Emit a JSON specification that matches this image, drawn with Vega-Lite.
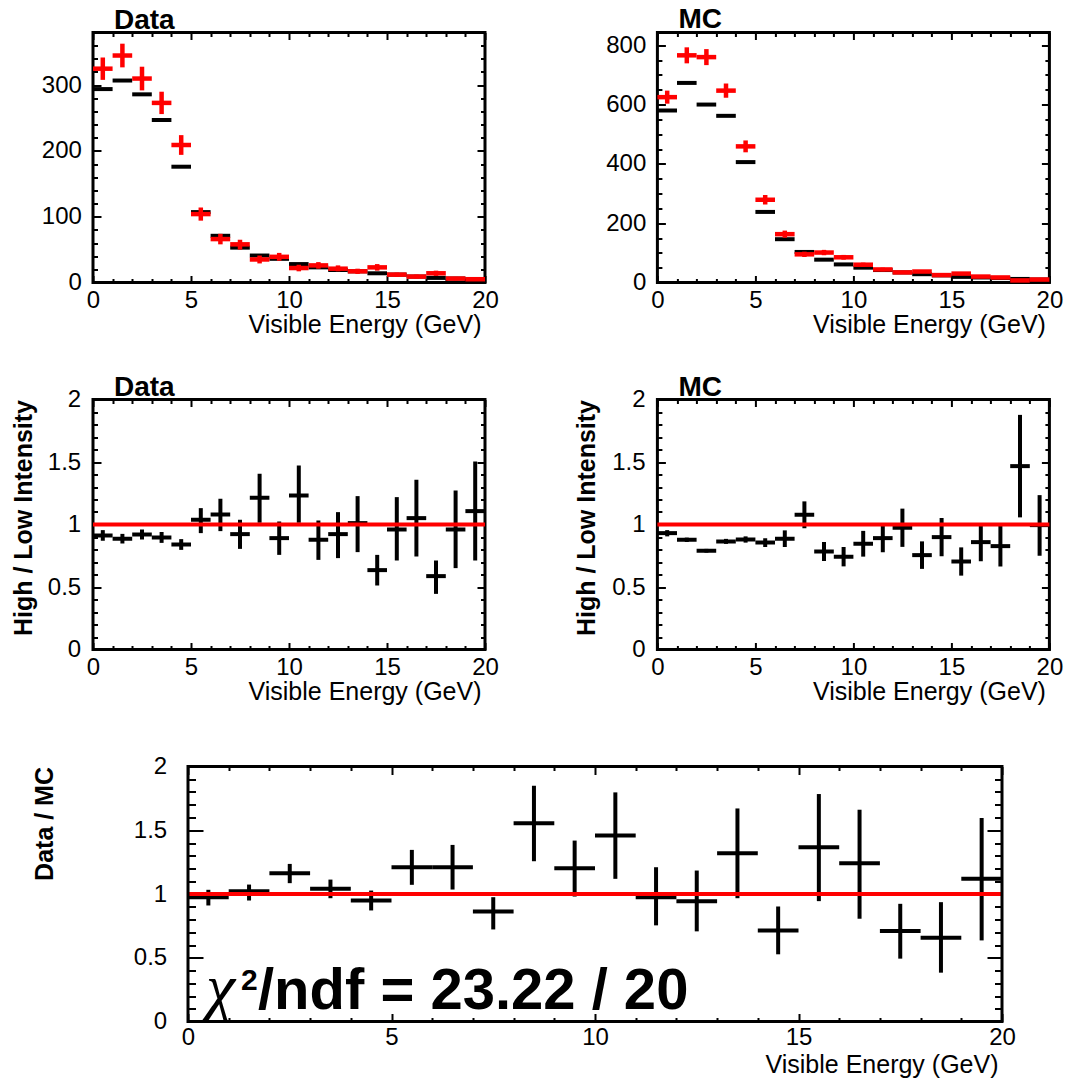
{
  "$schema": "https://vega.github.io/schema/vega-lite/v6.json",
  "background": "white",
  "padding": {"left": 9, "top": 3.5, "right": 5, "bottom": 2},
  "datasets": {
    "d1": [
      {"b":0.5,"x0":0,"x1":1,"high":294,"low":325,"low_lo":308,"low_hi":342},
      {"b":1.5,"x0":1,"x1":2,"high":307,"low":345,"low_lo":327,"low_hi":363},
      {"b":2.5,"x0":2,"x1":3,"high":286,"low":310,"low_lo":292,"low_hi":328},
      {"b":3.5,"x0":3,"x1":4,"high":247,"low":273,"low_lo":256,"low_hi":290},
      {"b":4.5,"x0":4,"x1":5,"high":176,"low":209,"low_lo":194,"low_hi":224},
      {"b":5.5,"x0":5,"x1":6,"high":107,"low":104,"low_lo":94,"low_hi":114},
      {"b":6.5,"x0":6,"x1":7,"high":71,"low":66,"low_lo":58,"low_hi":74},
      {"b":7.5,"x0":7,"x1":8,"high":53,"low":58,"low_lo":50,"low_hi":65},
      {"b":8.5,"x0":8,"x1":9,"high":41,"low":35,"low_lo":29,"low_hi":41},
      {"b":9.5,"x0":9,"x1":10,"high":36,"low":39,"low_lo":33,"low_hi":45},
      {"b":10.5,"x0":10,"x1":11,"high":28,"low":22,"low_lo":17,"low_hi":27},
      {"b":11.5,"x0":11,"x1":12,"high":23,"low":26,"low_lo":21,"low_hi":31},
      {"b":12.5,"x0":12,"x1":13,"high":19,"low":21,"low_lo":17,"low_hi":26},
      {"b":13.5,"x0":13,"x1":14,"high":17,"low":17,"low_lo":13,"low_hi":21},
      {"b":14.5,"x0":14,"x1":15,"high":14,"low":23,"low_lo":18,"low_hi":28},
      {"b":15.5,"x0":15,"x1":16,"high":12,"low":12,"low_lo":8.5,"low_hi":15},
      {"b":16.5,"x0":16,"x1":17,"high":9,"low":9,"low_lo":6,"low_hi":12},
      {"b":17.5,"x0":17,"x1":18,"high":7,"low":14,"low_lo":10,"low_hi":18},
      {"b":18.5,"x0":18,"x1":19,"high":6,"low":6,"low_lo":3.5,"low_hi":8.5},
      {"b":19.5,"x0":19,"x1":20,"high":5,"low":5,"low_lo":3,"low_hi":7}
    ],
    "d2": [
      {"b":0.5,"x0":0,"x1":1,"high":580,"low":625,"low_lo":603,"low_hi":647},
      {"b":1.5,"x0":1,"x1":2,"high":673,"low":766,"low_lo":739,"low_hi":793},
      {"b":2.5,"x0":2,"x1":3,"high":600,"low":760,"low_lo":733,"low_hi":787},
      {"b":3.5,"x0":3,"x1":4,"high":562,"low":647,"low_lo":623,"low_hi":671},
      {"b":4.5,"x0":4,"x1":5,"high":406,"low":459,"low_lo":439,"low_hi":479},
      {"b":5.5,"x0":5,"x1":6,"high":238,"low":279,"low_lo":263,"low_hi":295},
      {"b":6.5,"x0":6,"x1":7,"high":146,"low":163,"low_lo":151,"low_hi":175},
      {"b":7.5,"x0":7,"x1":8,"high":103,"low":95,"low_lo":86,"low_hi":104},
      {"b":8.5,"x0":8,"x1":9,"high":77,"low":101,"low_lo":92,"low_hi":110},
      {"b":9.5,"x0":9,"x1":10,"high":61,"low":85,"low_lo":77,"low_hi":93},
      {"b":10.5,"x0":10,"x1":11,"high":50,"low":60,"low_lo":53,"low_hi":67},
      {"b":11.5,"x0":11,"x1":12,"high":42,"low":44,"low_lo":38,"low_hi":50},
      {"b":12.5,"x0":12,"x1":13,"high":34,"low":34,"low_lo":29,"low_hi":39},
      {"b":13.5,"x0":13,"x1":14,"high":28,"low":37,"low_lo":32,"low_hi":42},
      {"b":14.5,"x0":14,"x1":15,"high":24,"low":25,"low_lo":21,"low_hi":29},
      {"b":15.5,"x0":15,"x1":16,"high":19,"low":30,"low_lo":25,"low_hi":35},
      {"b":16.5,"x0":16,"x1":17,"high":17,"low":20,"low_lo":16,"low_hi":24},
      {"b":17.5,"x0":17,"x1":18,"high":15,"low":17,"low_lo":13,"low_hi":21},
      {"b":18.5,"x0":18,"x1":19,"high":12,"low":7,"low_lo":4.5,"low_hi":9.5},
      {"b":19.5,"x0":19,"x1":20,"high":10,"low":10,"low_lo":7,"low_hi":13}
    ],
    "r1": [
      {"b":0.5,"x0":0,"x1":1,"r":0.912,"r_lo":0.87,"r_hi":0.955},
      {"b":1.5,"x0":1,"x1":2,"r":0.886,"r_lo":0.848,"r_hi":0.925},
      {"b":2.5,"x0":2,"x1":3,"r":0.92,"r_lo":0.88,"r_hi":0.96},
      {"b":3.5,"x0":3,"x1":4,"r":0.896,"r_lo":0.853,"r_hi":0.94},
      {"b":4.5,"x0":4,"x1":5,"r":0.84,"r_lo":0.797,"r_hi":0.883},
      {"b":5.5,"x0":5,"x1":6,"r":1.038,"r_lo":0.931,"r_hi":1.131},
      {"b":6.5,"x0":6,"x1":7,"r":1.08,"r_lo":0.947,"r_hi":1.206},
      {"b":7.5,"x0":7,"x1":8,"r":0.923,"r_lo":0.805,"r_hi":1.038},
      {"b":8.5,"x0":8,"x1":9,"r":1.214,"r_lo":1.014,"r_hi":1.406},
      {"b":9.5,"x0":9,"x1":10,"r":0.891,"r_lo":0.757,"r_hi":1.024},
      {"b":10.5,"x0":10,"x1":11,"r":1.232,"r_lo":1.014,"r_hi":1.472},
      {"b":11.5,"x0":11,"x1":12,"r":0.878,"r_lo":0.717,"r_hi":1.032},
      {"b":12.5,"x0":12,"x1":13,"r":0.923,"r_lo":0.731,"r_hi":1.099},
      {"b":13.5,"x0":13,"x1":14,"r":1.011,"r_lo":0.779,"r_hi":1.227},
      {"b":14.5,"x0":14,"x1":15,"r":0.635,"r_lo":0.512,"r_hi":0.757},
      {"b":15.5,"x0":15,"x1":16,"r":0.96,"r_lo":0.712,"r_hi":1.219},
      {"b":16.5,"x0":16,"x1":17,"r":1.051,"r_lo":0.744,"r_hi":1.358},
      {"b":17.5,"x0":17,"x1":18,"r":0.587,"r_lo":0.445,"r_hi":0.712},
      {"b":18.5,"x0":18,"x1":19,"r":0.96,"r_lo":0.651,"r_hi":1.272},
      {"b":19.5,"x0":19,"x1":20,"r":1.107,"r_lo":0.712,"r_hi":1.504}
    ],
    "r2": [
      {"b":0.5,"x0":0,"x1":1,"r":0.931,"r_lo":0.905,"r_hi":0.955},
      {"b":1.5,"x0":1,"x1":2,"r":0.878,"r_lo":0.86,"r_hi":0.895},
      {"b":2.5,"x0":2,"x1":3,"r":0.79,"r_lo":0.775,"r_hi":0.805},
      {"b":3.5,"x0":3,"x1":4,"r":0.864,"r_lo":0.845,"r_hi":0.885},
      {"b":4.5,"x0":4,"x1":5,"r":0.88,"r_lo":0.855,"r_hi":0.905},
      {"b":5.5,"x0":5,"x1":6,"r":0.856,"r_lo":0.82,"r_hi":0.89},
      {"b":6.5,"x0":6,"x1":7,"r":0.886,"r_lo":0.82,"r_hi":0.953},
      {"b":7.5,"x0":7,"x1":8,"r":1.078,"r_lo":0.97,"r_hi":1.185},
      {"b":8.5,"x0":8,"x1":9,"r":0.784,"r_lo":0.708,"r_hi":0.86},
      {"b":9.5,"x0":9,"x1":10,"r":0.742,"r_lo":0.665,"r_hi":0.82},
      {"b":10.5,"x0":10,"x1":11,"r":0.846,"r_lo":0.743,"r_hi":0.949},
      {"b":11.5,"x0":11,"x1":12,"r":0.891,"r_lo":0.778,"r_hi":1.004},
      {"b":12.5,"x0":12,"x1":13,"r":0.974,"r_lo":0.821,"r_hi":1.127},
      {"b":13.5,"x0":13,"x1":14,"r":0.755,"r_lo":0.645,"r_hi":0.865},
      {"b":14.5,"x0":14,"x1":15,"r":0.899,"r_lo":0.746,"r_hi":1.052},
      {"b":15.5,"x0":15,"x1":16,"r":0.704,"r_lo":0.591,"r_hi":0.817},
      {"b":16.5,"x0":16,"x1":17,"r":0.859,"r_lo":0.706,"r_hi":1.012},
      {"b":17.5,"x0":17,"x1":18,"r":0.827,"r_lo":0.664,"r_hi":0.99},
      {"b":18.5,"x0":18,"x1":19,"r":1.467,"r_lo":1.057,"r_hi":1.877},
      {"b":19.5,"x0":19,"x1":20,"r":0.995,"r_lo":0.75,"r_hi":1.235}
    ],
    "r3": [
      {"b":0.5,"x0":0,"x1":1,"r":0.975,"r_lo":0.91,"r_hi":1.033},
      {"b":1.5,"x0":1,"x1":2,"r":1.022,"r_lo":0.949,"r_hi":1.074},
      {"b":2.5,"x0":2,"x1":3,"r":1.163,"r_lo":1.085,"r_hi":1.236},
      {"b":3.5,"x0":3,"x1":4,"r":1.041,"r_lo":0.967,"r_hi":1.113},
      {"b":4.5,"x0":4,"x1":5,"r":0.949,"r_lo":0.871,"r_hi":1.027},
      {"b":5.5,"x0":5,"x1":6,"r":1.21,"r_lo":1.072,"r_hi":1.346},
      {"b":6.5,"x0":6,"x1":7,"r":1.21,"r_lo":1.035,"r_hi":1.385},
      {"b":7.5,"x0":7,"x1":8,"r":0.863,"r_lo":0.722,"r_hi":0.975},
      {"b":8.5,"x0":8,"x1":9,"r":1.554,"r_lo":1.257,"r_hi":1.849},
      {"b":9.5,"x0":9,"x1":10,"r":1.202,"r_lo":0.98,"r_hi":1.419},
      {"b":10.5,"x0":10,"x1":11,"r":1.458,"r_lo":1.119,"r_hi":1.797},
      {"b":11.5,"x0":11,"x1":12,"r":0.975,"r_lo":0.754,"r_hi":1.21},
      {"b":12.5,"x0":12,"x1":13,"r":0.944,"r_lo":0.707,"r_hi":1.184},
      {"b":13.5,"x0":13,"x1":14,"r":1.319,"r_lo":0.967,"r_hi":1.671},
      {"b":14.5,"x0":14,"x1":15,"r":0.714,"r_lo":0.527,"r_hi":0.902},
      {"b":15.5,"x0":15,"x1":16,"r":1.366,"r_lo":0.944,"r_hi":1.784},
      {"b":16.5,"x0":16,"x1":17,"r":1.241,"r_lo":0.806,"r_hi":1.661},
      {"b":17.5,"x0":17,"x1":18,"r":0.709,"r_lo":0.493,"r_hi":0.923},
      {"b":18.5,"x0":18,"x1":19,"r":0.657,"r_lo":0.383,"r_hi":0.936},
      {"b":19.5,"x0":19,"x1":20,"r":1.119,"r_lo":0.636,"r_hi":1.596}
    ]
  },
  "columns": 2,
  "bounds": "flush",
  "align": "each",
  "spacing": {"row": 117, "column": 172.4},
  "concat": [
    {
      "width": 392, "height": 250,
      "title": {"text": "Data", "anchor": "start", "frame": "group", "offset": -36, "dx": 21, "fontSize": 28, "fontWeight": "bold", "font": "Liberation Sans", "color": "black", "baseline": "alphabetic"},
      "data": {"name": "d1"},
      "resolve": {"axis": {"x": "independent", "y": "independent"}},
      "layer": [
        {"mark": {"type": "rule", "color": "black", "strokeWidth": 4},
         "encoding": {
           "x": {"field": "x0", "type": "quantitative", "scale": {"domain": [0, 20], "nice": false, "zero": false},
                 "axis": {"orient": "bottom", "values": [0,1,2,3,4,5,6,7,8,9,10,11,12,13,14,15,16,17,18,19,20],
                          "tickSize": {"condition": {"test": "datum.value % 5 === 0", "value": -7}, "value": -4},
                          "labelExpr": "datum.value % 5 === 0 ? '' + datum.value : ''", "labelPadding": 12.5,
                          "title": "Visible Energy (GeV)", "titleX": 388, "titleY": 50, "titleAlign": "right", "titleBaseline": "alphabetic", "titleAngle": 0, "titleFontWeight": "normal", "titleFontSize": 25}},
           "x2": {"field": "x1"},
           "y": {"field": "high", "type": "quantitative", "scale": {"domain": [0, 380], "nice": false},
                 "axis": {"orient": "left", "values": [0,20,40,60,80,100,120,140,160,180,200,220,240,260,280,300,320,340,360,380],
                          "tickSize": {"condition": {"test": "datum.value % 100 === 0", "value": -8}, "value": -4.5},
                          "labelExpr": "datum.value % 100 === 0 ? '' + datum.value : ''", "labelPadding": 19.6, "title": null}}
         }},
        {"mark": {"type": "rule", "color": "#ff0000", "strokeWidth": 4.5},
         "encoding": {
           "x": {"field": "x0", "type": "quantitative", "scale": {"domain": [0, 20], "nice": false, "zero": false}, "axis": null},
           "x2": {"field": "x1"},
           "y": {"field": "low", "type": "quantitative", "scale": {"domain": [0, 380], "nice": false}, "axis": null}
         }},
        {"mark": {"type": "rule", "color": "#ff0000", "strokeWidth": 4.5},
         "encoding": {
           "x": {"field": "b", "type": "quantitative", "scale": {"domain": [0, 20], "nice": false, "zero": false},
                 "axis": {"orient": "top", "values": [0,1,2,3,4,5,6,7,8,9,10,11,12,13,14,15,16,17,18,19,20],
                          "tickSize": {"condition": {"test": "datum.value % 5 === 0", "value": -7}, "value": -4}, "labels": false, "title": null, "minExtent": 0, "maxExtent": 0}},
           "y": {"field": "low_lo", "type": "quantitative", "scale": {"domain": [0, 380], "nice": false},
                 "axis": {"orient": "right", "values": [0,20,40,60,80,100,120,140,160,180,200,220,240,260,280,300,320,340,360,380],
                          "tickSize": {"condition": {"test": "datum.value % 100 === 0", "value": -8}, "value": -4.5}, "labels": false, "title": null, "minExtent": 0, "maxExtent": 0}},
           "y2": {"field": "low_hi"}
         }}
      ]
    },
    {
      "width": 392, "height": 250,
      "title": {"text": "MC", "anchor": "start", "frame": "group", "offset": -24, "dx": 21, "fontSize": 28, "fontWeight": "bold", "font": "Liberation Sans", "color": "black", "baseline": "alphabetic"},
      "data": {"name": "d2"},
      "resolve": {"axis": {"x": "independent", "y": "independent"}},
      "layer": [
        {"mark": {"type": "rule", "color": "black", "strokeWidth": 4},
         "encoding": {
           "x": {"field": "x0", "type": "quantitative", "scale": {"domain": [0, 20], "nice": false, "zero": false},
                 "axis": {"orient": "bottom", "values": [0,1,2,3,4,5,6,7,8,9,10,11,12,13,14,15,16,17,18,19,20],
                          "tickSize": {"condition": {"test": "datum.value % 5 === 0", "value": -7}, "value": -4},
                          "labelExpr": "datum.value % 5 === 0 ? '' + datum.value : ''", "labelPadding": 12.5,
                          "title": "Visible Energy (GeV)", "titleX": 388, "titleY": 50, "titleAlign": "right", "titleBaseline": "alphabetic", "titleAngle": 0, "titleFontWeight": "normal", "titleFontSize": 25}},
           "x2": {"field": "x1"},
           "y": {"field": "high", "type": "quantitative", "scale": {"domain": [0, 843], "nice": false},
                 "axis": {"orient": "left", "values": [0,50,100,150,200,250,300,350,400,450,500,550,600,650,700,750,800],
                          "tickSize": {"condition": {"test": "datum.value % 200 === 0", "value": -8}, "value": -4.5},
                          "labelExpr": "datum.value % 200 === 0 ? '' + datum.value : ''", "labelPadding": 19.6, "title": null}}
         }},
        {"mark": {"type": "rule", "color": "#ff0000", "strokeWidth": 4.5},
         "encoding": {
           "x": {"field": "x0", "type": "quantitative", "scale": {"domain": [0, 20], "nice": false, "zero": false}, "axis": null},
           "x2": {"field": "x1"},
           "y": {"field": "low", "type": "quantitative", "scale": {"domain": [0, 843], "nice": false}, "axis": null}
         }},
        {"mark": {"type": "rule", "color": "#ff0000", "strokeWidth": 4.5},
         "encoding": {
           "x": {"field": "b", "type": "quantitative", "scale": {"domain": [0, 20], "nice": false, "zero": false},
                 "axis": {"orient": "top", "values": [0,1,2,3,4,5,6,7,8,9,10,11,12,13,14,15,16,17,18,19,20],
                          "tickSize": {"condition": {"test": "datum.value % 5 === 0", "value": -7}, "value": -4}, "labels": false, "title": null, "minExtent": 0, "maxExtent": 0}},
           "y": {"field": "low_lo", "type": "quantitative", "scale": {"domain": [0, 843], "nice": false},
                 "axis": {"orient": "right", "values": [0,50,100,150,200,250,300,350,400,450,500,550,600,650,700,750,800],
                          "tickSize": {"condition": {"test": "datum.value % 200 === 0", "value": -8}, "value": -4.5}, "labels": false, "title": null, "minExtent": 0, "maxExtent": 0}},
           "y2": {"field": "low_hi"}
         }}
      ]
    },
    {
      "width": 392, "height": 250,
      "title": {"text": "Data", "anchor": "start", "frame": "group", "offset": -36.5, "dx": 21, "fontSize": 28, "fontWeight": "bold", "font": "Liberation Sans", "color": "black", "baseline": "alphabetic"},
      "data": {"name": "r1"},
      "resolve": {"axis": {"x": "independent", "y": "independent"}},
      "layer": [
        {"mark": {"type": "rule", "color": "black", "strokeWidth": 4},
         "encoding": {
           "x": {"field": "x0", "type": "quantitative", "scale": {"domain": [0, 20], "nice": false, "zero": false},
                 "axis": {"orient": "bottom", "values": [0,1,2,3,4,5,6,7,8,9,10,11,12,13,14,15,16,17,18,19,20],
                          "tickSize": {"condition": {"test": "datum.value % 5 === 0", "value": -7}, "value": -4},
                          "labelExpr": "datum.value % 5 === 0 ? '' + datum.value : ''", "labelPadding": 12.5,
                          "title": "Visible Energy (GeV)", "titleX": 388, "titleY": 50, "titleAlign": "right", "titleBaseline": "alphabetic", "titleAngle": 0, "titleFontWeight": "normal", "titleFontSize": 25}},
           "x2": {"field": "x1"},
           "y": {"field": "r", "type": "quantitative", "scale": {"domain": [0, 2], "nice": false},
                 "axis": {"orient": "left", "values": [0,0.1,0.2,0.3,0.4,0.5,0.6,0.7,0.8,0.9,1,1.1,1.2,1.3,1.4,1.5,1.6,1.7,1.8,1.9,2],
                          "tickSize": {"condition": {"test": "indexof([0,0.5,1,1.5,2], datum.value) >= 0", "value": -8}, "value": -4.5},
                          "labelExpr": "indexof([0,0.5,1,1.5,2], datum.value) >= 0 ? '' + datum.value : ''", "labelPadding": 20.3,
                          "title": "High / Low Intensity", "titleFontWeight": "bold", "titleFontSize": 25, "titleAngle": 270, "titleAlign": "right", "titleBaseline": "alphabetic", "titleX": -62, "titleY": 0}}
         }},
        {"mark": {"type": "rule", "color": "black", "strokeWidth": 4},
         "encoding": {
           "x": {"field": "b", "type": "quantitative", "scale": {"domain": [0, 20], "nice": false, "zero": false},
                 "axis": {"orient": "top", "values": [0,1,2,3,4,5,6,7,8,9,10,11,12,13,14,15,16,17,18,19,20],
                          "tickSize": {"condition": {"test": "datum.value % 5 === 0", "value": -7}, "value": -4}, "labels": false, "title": null, "minExtent": 0, "maxExtent": 0}},
           "y": {"field": "r_lo", "type": "quantitative", "scale": {"domain": [0, 2], "nice": false},
                 "axis": {"orient": "right", "values": [0,0.1,0.2,0.3,0.4,0.5,0.6,0.7,0.8,0.9,1,1.1,1.2,1.3,1.4,1.5,1.6,1.7,1.8,1.9,2],
                          "tickSize": {"condition": {"test": "indexof([0,0.5,1,1.5,2], datum.value) >= 0", "value": -8}, "value": -4.5}, "labels": false, "title": null, "minExtent": 0, "maxExtent": 0}},
           "y2": {"field": "r_hi"}
         }},
        {"data": {"values": [{}]},
         "mark": {"type": "rule", "color": "#ff0000", "strokeWidth": 4},
         "encoding": {
           "x": {"datum": 0, "type": "quantitative", "scale": {"domain": [0, 20], "nice": false, "zero": false}, "axis": null},
           "x2": {"datum": 20},
           "y": {"datum": 1, "type": "quantitative", "scale": {"domain": [0, 2], "nice": false}, "axis": null}
         }}
      ]
    },
    {
      "width": 392, "height": 250,
      "title": {"text": "MC", "anchor": "start", "frame": "group", "offset": -36.5, "dx": 21, "fontSize": 28, "fontWeight": "bold", "font": "Liberation Sans", "color": "black", "baseline": "alphabetic"},
      "data": {"name": "r2"},
      "resolve": {"axis": {"x": "independent", "y": "independent"}},
      "layer": [
        {"mark": {"type": "rule", "color": "black", "strokeWidth": 4},
         "encoding": {
           "x": {"field": "x0", "type": "quantitative", "scale": {"domain": [0, 20], "nice": false, "zero": false},
                 "axis": {"orient": "bottom", "values": [0,1,2,3,4,5,6,7,8,9,10,11,12,13,14,15,16,17,18,19,20],
                          "tickSize": {"condition": {"test": "datum.value % 5 === 0", "value": -7}, "value": -4},
                          "labelExpr": "datum.value % 5 === 0 ? '' + datum.value : ''", "labelPadding": 12.5,
                          "title": "Visible Energy (GeV)", "titleX": 388, "titleY": 50, "titleAlign": "right", "titleBaseline": "alphabetic", "titleAngle": 0, "titleFontWeight": "normal", "titleFontSize": 25}},
           "x2": {"field": "x1"},
           "y": {"field": "r", "type": "quantitative", "scale": {"domain": [0, 2], "nice": false},
                 "axis": {"orient": "left", "values": [0,0.1,0.2,0.3,0.4,0.5,0.6,0.7,0.8,0.9,1,1.1,1.2,1.3,1.4,1.5,1.6,1.7,1.8,1.9,2],
                          "tickSize": {"condition": {"test": "indexof([0,0.5,1,1.5,2], datum.value) >= 0", "value": -8}, "value": -4.5},
                          "labelExpr": "indexof([0,0.5,1,1.5,2], datum.value) >= 0 ? '' + datum.value : ''", "labelPadding": 20.3,
                          "title": "High / Low Intensity", "titleFontWeight": "bold", "titleFontSize": 25, "titleAngle": 270, "titleAlign": "right", "titleBaseline": "alphabetic", "titleX": -63, "titleY": 0}}
         }},
        {"mark": {"type": "rule", "color": "black", "strokeWidth": 4},
         "encoding": {
           "x": {"field": "b", "type": "quantitative", "scale": {"domain": [0, 20], "nice": false, "zero": false},
                 "axis": {"orient": "top", "values": [0,1,2,3,4,5,6,7,8,9,10,11,12,13,14,15,16,17,18,19,20],
                          "tickSize": {"condition": {"test": "datum.value % 5 === 0", "value": -7}, "value": -4}, "labels": false, "title": null, "minExtent": 0, "maxExtent": 0}},
           "y": {"field": "r_lo", "type": "quantitative", "scale": {"domain": [0, 2], "nice": false},
                 "axis": {"orient": "right", "values": [0,0.1,0.2,0.3,0.4,0.5,0.6,0.7,0.8,0.9,1,1.1,1.2,1.3,1.4,1.5,1.6,1.7,1.8,1.9,2],
                          "tickSize": {"condition": {"test": "indexof([0,0.5,1,1.5,2], datum.value) >= 0", "value": -8}, "value": -4.5}, "labels": false, "title": null, "minExtent": 0, "maxExtent": 0}},
           "y2": {"field": "r_hi"}
         }},
        {"data": {"values": [{}]},
         "mark": {"type": "rule", "color": "#ff0000", "strokeWidth": 4},
         "encoding": {
           "x": {"datum": 0, "type": "quantitative", "scale": {"domain": [0, 20], "nice": false, "zero": false}, "axis": null},
           "x2": {"datum": 20},
           "y": {"datum": 1, "type": "quantitative", "scale": {"domain": [0, 2], "nice": false}, "axis": null}
         }}
      ]
    },
    {
      "width": 392, "height": 255,
      "view": {"stroke": null},
      "data": {"name": "r3"},
      "resolve": {"axis": {"x": "independent", "y": "independent"}},
      "layer": [
        {"mark": {"type": "rule", "color": "black", "strokeWidth": 4},
         "encoding": {
           "x": {"field": "x0", "type": "quantitative", "scale": {"domain": [0, 20], "range": [95, 909], "nice": false, "zero": false},
                 "axis": {"orient": "bottom", "values": [0,1,2,3,4,5,6,7,8,9,10,11,12,13,14,15,16,17,18,19,20],
                          "tickSize": {"condition": {"test": "datum.value % 5 === 0", "value": -8}, "value": -4},
                          "labelExpr": "datum.value % 5 === 0 ? '' + datum.value : ''", "labelPadding": 11.6,
                          "title": "Visible Energy (GeV)", "titleX": 905, "titleY": 51, "titleAlign": "right", "titleBaseline": "alphabetic", "titleAngle": 0, "titleFontWeight": "normal", "titleFontSize": 25}},
           "x2": {"field": "x1"},
           "y": {"field": "r", "type": "quantitative", "scale": {"domain": [0, 2], "nice": false},
                 "axis": {"orient": "left", "offset": -95, "values": [0,0.1,0.2,0.3,0.4,0.5,0.6,0.7,0.8,0.9,1,1.1,1.2,1.3,1.4,1.5,1.6,1.7,1.8,1.9,2],
                          "tickSize": {"condition": {"test": "indexof([0,0.5,1,1.5,2], datum.value) >= 0", "value": -15}, "value": -7.5},
                          "labelExpr": "indexof([0,0.5,1,1.5,2], datum.value) >= 0 ? '' + datum.value : ''", "labelPadding": 36.3,
                          "title": "Data / MC", "titleFontWeight": "bold", "titleFontSize": 25, "titleAngle": 270, "titleAlign": "right", "titleBaseline": "alphabetic", "titleX": -135.3, "titleY": 0}}
         }},
        {"mark": {"type": "rule", "color": "black", "strokeWidth": 4},
         "encoding": {
           "x": {"field": "b", "type": "quantitative", "scale": {"domain": [0, 20], "range": [95, 909], "nice": false, "zero": false},
                 "axis": {"orient": "top", "values": [0,1,2,3,4,5,6,7,8,9,10,11,12,13,14,15,16,17,18,19,20],
                          "tickSize": {"condition": {"test": "datum.value % 5 === 0", "value": -8}, "value": -4}, "labels": false, "title": null, "minExtent": 0, "maxExtent": 0}},
           "y": {"field": "r_lo", "type": "quantitative", "scale": {"domain": [0, 2], "nice": false},
                 "axis": {"orient": "right", "offset": 517, "values": [0,0.1,0.2,0.3,0.4,0.5,0.6,0.7,0.8,0.9,1,1.1,1.2,1.3,1.4,1.5,1.6,1.7,1.8,1.9,2],
                          "tickSize": {"condition": {"test": "indexof([0,0.5,1,1.5,2], datum.value) >= 0", "value": -15}, "value": -7.5}, "labels": false, "title": null, "minExtent": 0, "maxExtent": 0}},
           "y2": {"field": "r_hi"}
         }},
        {"data": {"values": [{}]},
         "mark": {"type": "rule", "color": "#ff0000", "strokeWidth": 4},
         "encoding": {
           "x": {"datum": 0, "type": "quantitative", "scale": {"domain": [0, 20], "range": [95, 909], "nice": false, "zero": false}, "axis": null},
           "x2": {"datum": 20},
           "y": {"datum": 1, "type": "quantitative", "scale": {"domain": [0, 2], "nice": false}, "axis": null}
         }},
        {"data": {"values": [{}]},
         "mark": {"type": "rect", "filled": false, "color": "black", "strokeWidth": 3},
         "encoding": {
           "x": {"datum": 0, "type": "quantitative", "scale": {"domain": [0, 20], "range": [95, 909], "nice": false, "zero": false}, "axis": null},
           "x2": {"datum": 20},
           "y": {"datum": 0, "type": "quantitative", "scale": {"domain": [0, 2], "nice": false}, "axis": null},
           "y2": {"datum": 2}
         }},
        {"data": {"values": [{}]},
         "mark": {"type": "text", "text": "χ", "font": "Liberation Serif", "fontStyle": "italic", "fontSize": 66, "align": "left", "baseline": "alphabetic", "color": "black"},
         "encoding": {
           "x": {"datum": 0.44, "type": "quantitative", "scale": {"domain": [0, 20], "range": [95, 909], "nice": false, "zero": false}, "axis": null},
           "y": {"datum": 0.1, "type": "quantitative", "scale": {"domain": [0, 2], "nice": false}, "axis": null}
         }},
        {"data": {"values": [{}]},
         "mark": {"type": "text", "text": "2", "font": "Liberation Sans", "fontWeight": "bold", "fontSize": 30, "align": "left", "baseline": "alphabetic", "color": "black"},
         "encoding": {
           "x": {"datum": 1.3, "type": "quantitative", "scale": {"domain": [0, 20], "range": [95, 909], "nice": false, "zero": false}, "axis": null},
           "y": {"datum": 0.245, "type": "quantitative", "scale": {"domain": [0, 2], "nice": false}, "axis": null}
         }},
        {"data": {"values": [{}]},
         "mark": {"type": "text", "text": "/ndf = 23.22 / 20", "font": "Liberation Sans", "fontWeight": "bold", "fontSize": 58, "align": "left", "baseline": "alphabetic", "color": "black"},
         "encoding": {
           "x": {"datum": 1.72, "type": "quantitative", "scale": {"domain": [0, 20], "range": [95, 909], "nice": false, "zero": false}, "axis": null},
           "y": {"datum": 0.1, "type": "quantitative", "scale": {"domain": [0, 2], "nice": false}, "axis": null}
         }}
      ]
    }
  ],
  "config": {
    "view": {"stroke": "black", "strokeWidth": 3},
    "font": "Liberation Sans",
    "axis": {"domain": false, "grid": false, "minExtent": 0, "tickColor": "black", "tickWidth": 2, "labelFont": "Liberation Sans", "labelFontSize": 24, "labelColor": "black", "labelOverlap": false, "labelFlush": false, "titleFont": "Liberation Sans", "titleColor": "black", "titleFontSize": 25}
  }
}
